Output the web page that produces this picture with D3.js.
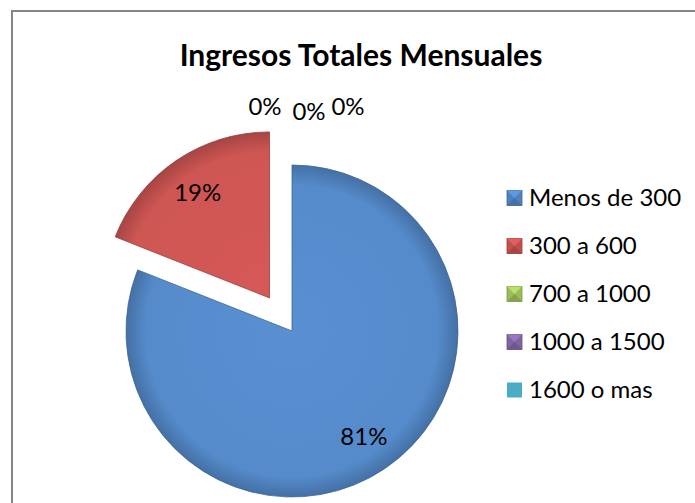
<!DOCTYPE html>
<html>
<head>
<meta charset="utf-8">
<script src="https://d3js.org/d3.v7.min.js"></script>
<style>
  body { margin: 0; background: #fff; }
  text { font-family: Lato, "Open Sans", sans-serif; }
</style>
</head>
<body>
<div id="chart"></div>
<script>
// data
const categories = ["Menos de 300", "300 a 600", "700 a 1000", "1000 a 1500", "1600 o mas"];
const values = [81, 19, 0, 0, 0];
const labels = ["81%", "19%", "0%", "0%", "0%"];
const colors = ["#4F81BD", "#C0504D", "#9BBB59", "#8064A2", "#4BACC6"];
const exploded = [false, true, false, false, false];

const width = 695, height = 503;
const cx = 292, cy = 331, radius = 166, explodeBy = 40;

const svg = d3.select("#chart").append("svg")
    .attr("width", width)
    .attr("height", height);

// outer chart border
svg.append("rect")
    .attr("x", 12).attr("y", 11)
    .attr("width", width).attr("height", height)
    .attr("fill", "#fff")
    .attr("stroke", "#868686")
    .attr("stroke-width", 2);

svg.append("text")
    .attr("x", 361).attr("y", 66)
    .attr("text-anchor", "middle")
    .attr("font-size", 30)
    .attr("font-weight", "bold")
    .text("Ingresos Totales Mensuales");

// gradients to fake the bevel
const defs = svg.append("defs");
colors.forEach((c, i) => {
  const g = defs.append("radialGradient")
      .attr("id", "grad" + i)
      .attr("gradientUnits", "userSpaceOnUse")
      .attr("cx", 0).attr("cy", 0).attr("r", radius);
  g.append("stop").attr("offset", "0%").attr("stop-color", d3.color(c).brighter(0.3));
  g.append("stop").attr("offset", "88%").attr("stop-color", d3.color(c).brighter(0.2));
  g.append("stop").attr("offset", "100%").attr("stop-color", d3.color(c).darker(0.4));
});

const pie = d3.pie().sort(null).value(d => d).startAngle(0).endAngle(2 * Math.PI);
const arcs = pie(values);
const arc = d3.arc().innerRadius(0).outerRadius(radius);
const labelArc = d3.arc().innerRadius(radius * 0.77).outerRadius(radius * 0.77);

function shift(d, i) {
  if (!exploded[i]) return [0, 0];
  const a = (d.startAngle + d.endAngle) / 2;
  return [Math.sin(a) * explodeBy, -Math.cos(a) * explodeBy];
}

const pieG = svg.append("g").attr("transform", `translate(${cx},${cy})`);

const slice = pieG.selectAll("g.slice")
  .data(arcs)
  .enter().append("g")
    .attr("class", "slice")
    .attr("transform", (d, i) => `translate(${shift(d, i)})`);

slice.filter(d => d.value > 0).append("path")
    .attr("d", arc)
    .attr("fill", (d, i) => `url(#grad${i})`)
    .attr("stroke", (d, i) => d3.color(colors[i]).darker(0.7))
    .attr("stroke-width", 0.8);

// label of non-zero slices at their centroid
slice.filter(d => d.value > 0).append("text")
    .attr("transform", d => `translate(${labelArc.centroid(d)})`)
    .attr("text-anchor", "middle")
    .attr("dy", "0.35em")
    .attr("font-size", 24)
    .text((d, i) => labels[i]);

// zero slices: labels pushed outside the top, spread apart
const zeroArcs = arcs.filter(d => d.value === 0);
const outArc = d3.arc().innerRadius(radius + 58).outerRadius(radius + 58);
const spread = [-27, 17, 56];
const lift = [0, 5, 0];
pieG.selectAll("text.zero")
  .data(zeroArcs)
  .enter().append("text")
    .attr("class", "zero")
    .attr("x", (d, i) => outArc.centroid(d)[0] + spread[i])
    .attr("y", (d, i) => outArc.centroid(d)[1] + lift[i])
    .attr("text-anchor", "middle")
    .attr("dy", "0.35em")
    .attr("font-size", 24)
    .text(d => labels[d.index]);

// legend
const legend = svg.append("g").attr("transform", "translate(507,198)");
const row = d3.scalePoint().domain(categories).range([0, 192]);

const item = legend.selectAll("g")
  .data(categories)
  .enter().append("g")
    .attr("transform", d => `translate(0,${row(d)})`);

const s = 15;
item.append("rect")
    .attr("x", 0).attr("y", -s / 2)
    .attr("width", s).attr("height", s)
    .attr("fill", (d, i) => colors[i])
    .attr("stroke", (d, i) => i < 4 ? d3.color(colors[i]).darker(0.6) : "none")
    .attr("stroke-width", 0.8);

// little pyramid bevel on the markers
item.filter((d, i) => i < 4).append("path")
    .attr("d", `M0,${-s / 2}L${s},${-s / 2}L${s / 2},0Z`)
    .attr("fill", (d, i) => d3.color(colors[i]).brighter(0.5));
item.filter((d, i) => i < 4).append("path")
    .attr("d", `M0,${s / 2}L${s},${s / 2}L${s / 2},0Z`)
    .attr("fill", (d, i) => d3.color(colors[i]).darker(0.4));

item.append("text")
    .attr("x", 22)
    .attr("dy", "0.35em")
    .attr("font-size", 24)
    .text(d => d);
</script>
</body>
</html>
